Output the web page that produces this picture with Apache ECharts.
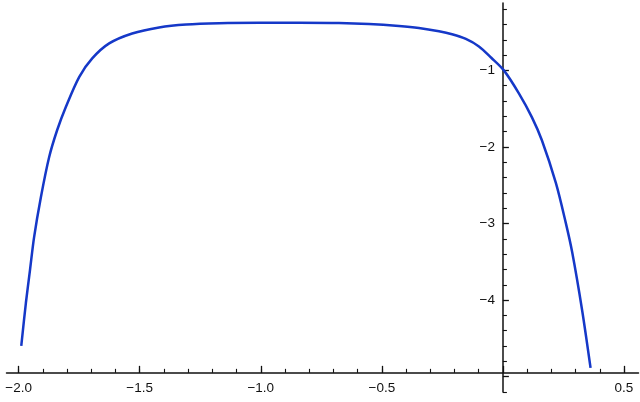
<!DOCTYPE html>
<html>
<head>
<meta charset="utf-8">
<script src="https://cdn.jsdelivr.net/npm/echarts@6/dist/echarts.min.js"></script>
<style>
html,body{margin:0;padding:0;background:#fff;}
#c{width:640px;height:402px;}
</style>
</head>
<body>
<div id="c"></div>
<script>
// curve points
const xs = [-1.989,-1.970,-1.953,-1.936,-1.908,-1.874,-1.841,-1.805,-1.750,-1.696,-1.626,-1.531,-1.420,-1.308,-1.172,-1.007,-0.842,-0.677,-0.553,-0.429,-0.347,-0.264,-0.210,-0.153,-0.099,-0.048,0.004,0.066,0.120,0.161,0.219,0.259,0.286,0.327,0.362];
const ys = [-4.599,-4.038,-3.608,-3.177,-2.656,-2.134,-1.782,-1.478,-1.087,-0.844,-0.648,-0.518,-0.439,-0.400,-0.383,-0.378,-0.378,-0.381,-0.394,-0.420,-0.446,-0.489,-0.528,-0.589,-0.687,-0.835,-1.000,-1.300,-1.613,-1.913,-2.473,-2.982,-3.373,-4.129,-4.885];

// tick labels / tick positions
const xLabelValues = [-2.0,-1.5,-1.0,-0.5,0.5];
const xMajorTicks = [-2.0,-1.5,-1.0,-0.5,0,0.5];
const xMinorTicks = [-2.0,-1.9,-1.8,-1.7,-1.6,-1.5,-1.4,-1.3,-1.2,-1.1,-1.0,-0.9,-0.8,-0.7,-0.6,-0.5,-0.4,-0.3,-0.2,-0.1,0.1,0.2,0.3,0.4,0.5];
const yLabelValues = [-1,-2,-3,-4];
const yMajorTicks = [-1,-2,-3,-4,-5];
const yMinorTicks = [-0.2,-0.4,-0.6,-0.8,-1.2,-1.4,-1.6,-1.8,-2.2,-2.4,-2.6,-2.8,-3.2,-3.4,-3.6,-3.8,-4.2,-4.4,-4.6,-4.8,-5.2];

const data = xs.map((x,i)=>[x, ys[i]]);

const XMIN=-2.05, XMAX=0.56, YMIN=-5.2, YMAX=-0.12;
const GL=6.5, GW=632, GT=3, GH=389;
const X_AXIS_AT = -4.95; // where the horizontal axis crosses the vertical one
const yOff = -((0 - XMIN) / (XMAX - XMIN) * GW);
const xOff = -((X_AXIS_AT - YMIN) / (YMAX - YMIN) * GH);

const font = {fontFamily:'Liberation Sans, Arial, sans-serif', fontSize:13.5, color:'#111'};
const fmtY = v => String(v).replace('-', '\u2212');

const chart = echarts.init(document.getElementById('c'), null, {renderer:'canvas'});
chart.setOption({
  animation:false,
  backgroundColor:'#fff',
  grid:{left:GL, top:GT, width:GW, height:GH, containLabel:false, outerBoundsMode:'none'},
  xAxis:[
    {type:'value', min:XMIN, max:XMAX, position:'bottom', offset:xOff,
     axisLine:{onZero:false, lineStyle:{color:'#111', width:1.5}},
     axisTick:{show:true, inside:true, length:7, customValues:xMajorTicks, lineStyle:{color:'#111', width:1.3}},
     axisLabel:{show:true, customValues:xLabelValues, formatter:v=>Number(v).toFixed(1).replace('-', '\u2212'), margin:8, ...font},
     splitLine:{show:false}},
    {type:'value', min:XMIN, max:XMAX, position:'bottom', offset:xOff,
     axisLine:{show:false, onZero:false},
     axisTick:{show:true, inside:true, length:4, customValues:xMinorTicks, lineStyle:{color:'#111', width:1.1}},
     axisLabel:{show:false}, splitLine:{show:false}}
  ],
  yAxis:[
    {type:'value', min:YMIN, max:YMAX, position:'left', offset:yOff,
     axisLine:{onZero:false, lineStyle:{color:'#111', width:1.5}},
     axisTick:{show:true, inside:true, length:6, customValues:yMajorTicks, lineStyle:{color:'#111', width:1.3}},
     axisLabel:{show:true, customValues:yLabelValues, formatter:fmtY, margin:8, ...font},
     splitLine:{show:false}},
    {type:'value', min:YMIN, max:YMAX, position:'left', offset:yOff,
     axisLine:{show:false, onZero:false},
     axisTick:{show:true, inside:true, length:4, customValues:yMinorTicks, lineStyle:{color:'#111', width:1.1}},
     axisLabel:{show:false}, splitLine:{show:false}}
  ],
  series:[{
    type:'line', data:data, xAxisIndex:0, yAxisIndex:0,
    showSymbol:false, smooth:0.3,
    lineStyle:{color:'#1538c8', width:2.5},
    clip:false
  }]
});
</script>
</body>
</html>
